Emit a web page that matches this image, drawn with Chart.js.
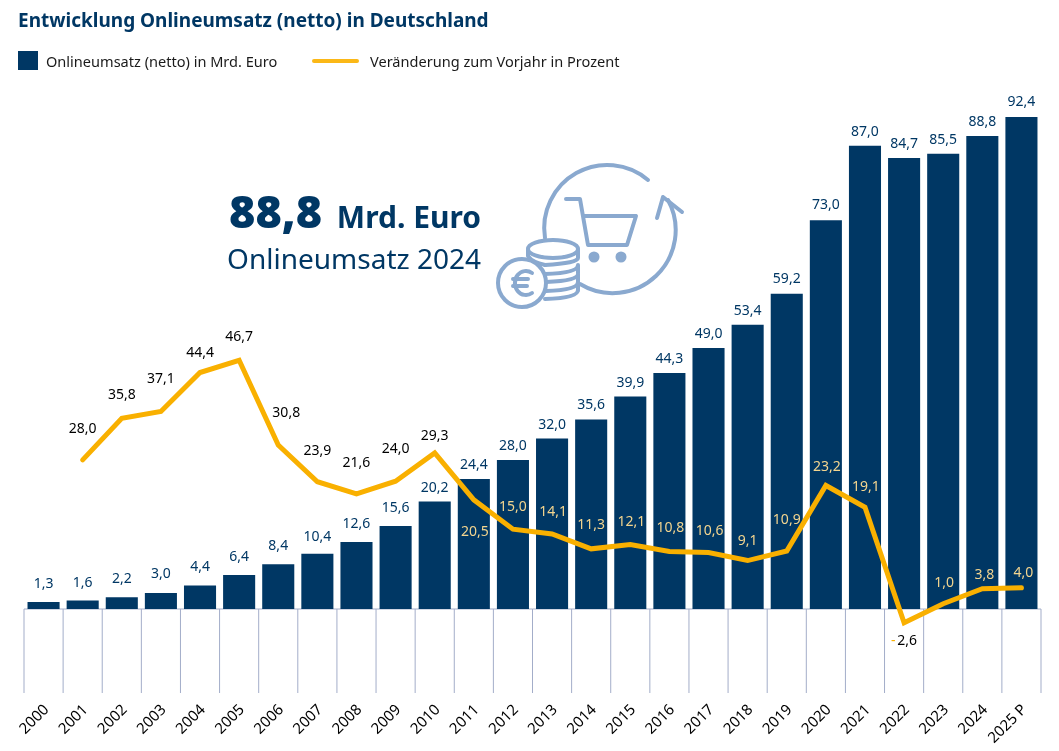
<!DOCTYPE html>
<html lang="de">
<head>
<meta charset="utf-8">
<title>Entwicklung Onlineumsatz (netto) in Deutschland</title>
<script src="https://cdn.jsdelivr.net/npm/chart.js@4"></script>
<style>
  body { margin: 0; background: #fff; font-family: "Noto Sans", sans-serif; color: #1a1a1a; }
  #wrap { position: relative; width: 1059px; height: 751px; overflow: hidden; }
  #chart { position: absolute; left: 0; top: 0; }
  h1 { position: absolute; left: 18px; top: 7px; margin: 0; font-size: 19px; line-height: 26px; font-weight: 700; color: #003764; white-space: nowrap; }
  .legend { position: absolute; top: 52px; font-size: 14.55px; line-height: 18px; white-space: nowrap; }
  .box { position: absolute; left: 18px; top: 51px; width: 20px; height: 19px; background: #003764; }
  .stroke { position: absolute; left: 312px; top: 59px; width: 47px; height: 4px; border-radius: 2px; background: #fbb817; }
  .big { position: absolute; right: 578px; top: 181px; color: #003764; font-weight: 700; font-size: 30px; line-height: 60px; white-space: nowrap; }
  .big b { font-size: 45px; margin-right: 7px; }
  .sub { position: absolute; right: 578px; top: 240px; color: #003764; font-size: 28px; line-height: 36px; white-space: nowrap; }
  #icon { position: absolute; left: 0; top: 0; }
  #icon * { fill: none; stroke: #8aa9cf; stroke-width: 4; stroke-linecap: round; stroke-linejoin: round; }
  #icon .dot { fill: #8aa9cf; stroke: none; }
</style>
</head>
<body>
<div id="wrap">
  <canvas id="chart" width="1059" height="751"></canvas>
  <h1>Entwicklung Onlineumsatz (netto) in Deutschland</h1>
  <div class="box"></div>
  <div class="legend" style="left:46px">Onlineumsatz (netto) in Mrd. Euro</div>
  <div class="stroke"></div>
  <div class="legend" style="left:370px">Veränderung zum Vorjahr in Prozent</div>
  <div class="big"><b>88,8</b> Mrd. Euro</div>
  <div class="sub">Onlineumsatz 2024</div>
  <svg id="icon" width="1059" height="751" viewBox="0 0 1059 751">
    <path d="M545 238 A63 63 0 0 1 648 180"/>
    <path d="M668 200 A63 63 0 0 1 580 284"/>
    <path d="M657 218 L663 197 L682 212"/>
    <path d="M566 199 H580 L588 245 H627 L636 216 H584"/>
    <circle class="dot" cx="594" cy="257" r="5.5"/>
    <circle class="dot" cx="621" cy="257" r="5.5"/>
    <ellipse cx="553" cy="249" rx="25" ry="9"/>
    <path d="M528 250 V256 Q532 262 545 265"/>
    <path d="M578 250 V258 Q578 263 545 265"/>
    <path d="M545 274 Q578 273 578 265 V273"/>
    <path d="M546 282 Q578 281 578 274 V282"/>
    <path d="M546 291 Q578 290 578 282 V290"/>
    <path d="M545 299 Q578 298 578 290"/>
    <circle cx="522" cy="283" r="24" fill="#fff" style="fill:#fff"/>
    <path d="M532 273 A11 12 0 1 0 532 293" stroke-width="3"/>
    <path d="M513 279 H528 M513 286 H527" stroke-width="3"/>
  </svg>
</div>
<script>
const categories = ["2000", "2001", "2002", "2003", "2004", "2005", "2006", "2007", "2008", "2009", "2010", "2011", "2012",
  "2013", "2014", "2015", "2016", "2017", "2018", "2019", "2020", "2021", "2022", "2023", "2024", "2025 P"];
const umsatz = [1.3, 1.6, 2.2, 3.0, 4.4, 6.4, 8.4, 10.4, 12.6, 15.6, 20.2, 24.4, 28.0,
  32.0, 35.6, 39.9, 44.3, 49.0, 53.4, 59.2, 73.0, 87.0, 84.7, 85.5, 88.8, 92.4];
const veraenderung = [null, 28.0, 35.8, 37.1, 44.4, 46.7, 30.8, 23.9, 21.6, 24.0, 29.3, 20.5, 15.0,
  14.1, 11.3, 12.1, 10.8, 10.6, 9.1, 10.9, 23.2, 19.1, -2.6, 1.0, 3.8, 4.0];

// hand placed label nudges in px, the labels sit wherever there was room
const barLabelGap = [18, 17, 18, 19, 19, 18, 18, 17, 18, 18, 13, 14, 14, 14, 14, 14, 14, 14, 14, 15, 15, 14, 14, 14, 14, 15];
const lineLabelDx = [0, 0, 0, 0, 0, 0, 8, 0, 0, 0, 0, 1, 0, 1, 0, 1, 1, 1, 0, 0, 1, 1, 1, 1, 2, 2];
const lineLabelDy = [0, -31, -23, -32, -20, -23, -32, -31, -31, -32, -17, 32, -22, -22, -24, -23, -23, -22, -20, -31, -18, -20, 18, -21, -14, -15];

const BLUE = "#003764";
const YELLOW = "#f9b000";
const PALE = "#f3d58f";
const FONT = '14px "Noto Sans", sans-serif';

const fmt = (v) => v.toFixed(1).replace(".", ",");

// separators only run from the zero line down
const axisLines = {
  id: "axisLines",
  beforeDatasetsDraw(chart) {
    const { ctx, scales: { x, y } } = chart;
    const y0 = y.getPixelForValue(0);
    const step = x.getPixelForTick(1) - x.getPixelForTick(0);
    ctx.save();
    ctx.strokeStyle = "#a3adc9";
    ctx.lineWidth = 1;
    ctx.beginPath();
    categories.forEach((_, i) => {
      const px = x.getPixelForTick(i) - step / 2;
      ctx.moveTo(px, y0);
      ctx.lineTo(px, y.bottom);
    });
    ctx.moveTo(x.right, y0);
    ctx.lineTo(x.right, y.bottom);
    ctx.moveTo(x.left, y0);
    ctx.lineTo(x.right, y0);
    ctx.stroke();
    ctx.restore();
  },
};

const valueLabels = {
  id: "valueLabels",
  afterDatasetsDraw(chart) {
    const { ctx } = chart;
    const bars = chart.getDatasetMeta(0).data;
    const pts = chart.getDatasetMeta(1).data;
    ctx.save();
    ctx.font = FONT;
    ctx.textBaseline = "middle";
    ctx.textAlign = "center";

    ctx.fillStyle = BLUE;
    bars.forEach((bar, i) => ctx.fillText(fmt(umsatz[i]), bar.x, bar.y - barLabelGap[i]));

    pts.forEach((pt, i) => {
      const v = veraenderung[i];
      if (v === null) return;
      const tx = pt.x + lineLabelDx[i];
      const ty = pt.y + lineLabelDy[i];
      // labels on top of a bar are pale, the ones on white stay black
      const onBar = i >= 11 && v > 0;
      if (v < 0) {
        const rest = fmt(-v);
        const w = ctx.measureText(rest).width;
        ctx.fillStyle = YELLOW;
        ctx.fillText("-", tx - w / 2 - 2, ty);
        ctx.fillStyle = "#000";
        ctx.fillText(rest, tx + 2, ty);
      } else {
        ctx.fillStyle = onBar ? PALE : "#000";
        ctx.fillText(fmt(v), tx, ty);
      }
    });
    ctx.restore();
  },
};

new Chart(document.getElementById("chart"), {
  data: {
    labels: categories,
    datasets: [
      {
        type: "bar",
        label: "Onlineumsatz (netto) in Mrd. Euro",
        data: umsatz,
        backgroundColor: BLUE,
        categoryPercentage: 1,
        barPercentage: 0.82,
        order: 2,
      },
      {
        type: "line",
        label: "Veränderung zum Vorjahr in Prozent",
        data: veraenderung,
        borderColor: YELLOW,
        borderWidth: 5,
        pointRadius: 0,
        tension: 0,
        borderJoinStyle: "miter",
        borderCapStyle: "round",
        order: 1,
      },
    ],
  },
  options: {
    responsive: false,
    animation: false,
    layout: { padding: { left: 24, right: 18, top: 90, bottom: 0 } },
    plugins: { legend: { display: false }, tooltip: { enabled: false } },
    scales: {
      x: {
        grid: { display: false },
        border: { display: false },
        afterFit(scale) { scale.height = 58; },
        ticks: {
          autoSkip: false,
          minRotation: 45,
          maxRotation: 45,
          padding: 0,
          labelOffset: 3,
          color: "#000",
          font: { family: '"Noto Sans", sans-serif', size: 15 },
        },
      },
      y: { display: false, min: -15.77, max: 97.46 },
    },
  },
  plugins: [axisLines, valueLabels],
});
</script>
</body>
</html>
